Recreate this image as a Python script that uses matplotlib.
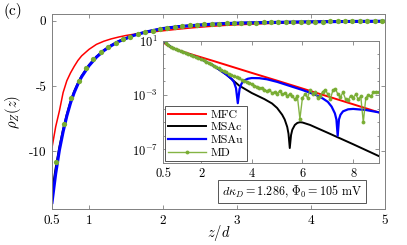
import matplotlib
matplotlib.use('Agg')
import matplotlib.pyplot as plt
import numpy as np

plt.rcParams['font.family'] = 'serif'
plt.rcParams['font.serif'] = ['cmr10', 'DejaVu Serif']
plt.rcParams['mathtext.fontset'] = 'cm'
plt.rcParams['axes.unicode_minus'] = False
plt.rcParams['axes.formatter.use_mathtext'] = True

# ---- main panel data: rho_Z(z) vs z/d ----
z_main = [0.5, 0.55, 0.6, 0.65, 0.7, 0.75, 0.8, 0.85, 0.9, 1.0, 1.1, 1.2,
          1.3, 1.4, 1.5, 1.6, 1.7, 1.8, 2.0, 2.2, 2.4, 2.6, 2.8, 3.0, 3.3,
          3.6, 4.0, 4.5, 5.0]
mfc_main = [-9.7, -8.1, -6.9, -5.5, -4.6, -4.0, -3.5, -3.05, -2.7, -2.2,
            -1.82, -1.58, -1.4, -1.26, -1.14, -1.05, -0.97, -0.9, -0.78,
            -0.66, -0.55, -0.46, -0.38, -0.32, -0.25, -0.19, -0.14, -0.09,
            -0.06]
msac_main = [-13.2, -11.3, -9.7, -8.35, -7.2, -6.22, -5.43, -4.8, -4.25,
             -3.41, -2.77, -2.28, -1.9, -1.59, -1.36, -1.13, -0.97, -0.83,
             -0.6, -0.46, -0.37, -0.29, -0.23, -0.19, -0.15, -0.12, -0.09,
             -0.06, -0.04]
msau_main = [-13.9, -11.7, -9.9, -8.5, -7.3, -6.3, -5.5, -4.85, -4.3, -3.45,
             -2.8, -2.3, -1.92, -1.6, -1.37, -1.14, -0.98, -0.84, -0.61,
             -0.47, -0.38, -0.3, -0.24, -0.2, -0.16, -0.13, -0.1, -0.07,
             -0.05]
z_md = [0.56, 0.66, 0.76, 0.86, 0.96, 1.06, 1.16, 1.26, 1.36, 1.46, 1.56,
        1.66, 1.76, 1.86, 1.96, 2.06, 2.16, 2.26, 2.36, 2.46, 2.56, 2.66,
        2.76, 2.86, 2.96, 3.06, 3.16, 3.26, 3.36, 3.46, 3.56, 3.66, 3.76,
        3.86, 3.96, 4.06, 4.16, 4.26, 4.36, 4.46, 4.56, 4.66, 4.76, 4.86,
        4.96]
md_main = [-10.8, -7.94, -5.95, -4.6, -3.6, -2.9, -2.4, -2.0, -1.68, -1.43,
           -1.22, -1.05, -0.91, -0.78, -0.66, -0.56, -0.48, -0.42, -0.37,
           -0.33, -0.29, -0.26, -0.23, -0.21, -0.19, -0.17, -0.16, -0.15,
           -0.14, -0.13, -0.12, -0.11, -0.1, -0.1, -0.09, -0.08, -0.08,
           -0.07, -0.07, -0.06, -0.06, -0.06, -0.05, -0.05, -0.05]

# ---- inset data: log10 of magnitude ----
z_mfc_in = [0.5, 0.6, 0.7, 0.8, 1.0, 1.2, 1.5, 2.0, 2.5, 3.0, 4.0, 5.0, 6.0,
            7.0, 8.0, 9.0]
mfc_in = [0.92, 0.75, 0.63, 0.54, 0.38, 0.24, 0.06, -0.22, -0.5, -0.79,
          -1.37, -1.94, -2.52, -3.1, -3.68, -4.27]
z_msac_in = [0.5, 0.6, 0.7, 0.8, 1.0, 1.2, 1.5, 2.0, 2.5, 3.0, 3.5, 4.0, 4.5,
             4.8, 5.0, 5.2, 5.3, 5.4, 5.45, 5.5, 5.55, 5.6, 5.7, 5.8, 5.9,
             6.0, 6.3, 6.6, 7.0, 7.5, 8.0, 8.5, 9.0]
msac_in = [1.05, 0.85, 0.68, 0.55, 0.36, 0.21, 0.01, -0.36, -0.85, -1.5,
           -2.3, -2.85, -3.3, -3.62, -3.95, -4.45, -4.8, -5.35, -5.85, -6.9,
           -5.95, -5.55, -5.2, -5.05, -5.0, -5.02, -5.2, -5.45, -5.78, -6.2,
           -6.62, -7.05, -7.48]
z_msau_in = [0.5, 0.6, 0.7, 0.8, 1.0, 1.2, 1.5, 2.0, 2.5, 3.0, 3.2, 3.3, 3.38,
             3.45, 3.52, 3.6, 3.7, 3.85, 4.0, 4.3, 4.6, 5.0, 5.5, 6.0, 6.5,
             6.8, 7.0, 7.15, 7.28, 7.34, 7.39, 7.44, 7.5, 7.6, 7.8, 8.0, 8.5,
             9.0]
msau_in = [1.05, 0.85, 0.68, 0.55, 0.36, 0.21, 0.01, -0.36, -0.85, -1.5,
           -1.8, -2.05, -2.5, -3.6, -2.55, -2.15, -1.93, -1.8, -1.75, -1.76,
           -1.84, -2.03, -2.33, -2.63, -2.97, -3.25, -3.5, -3.85, -4.35, -4.8,
           -6.0, -4.8, -4.45, -4.2, -4.05, -4.02, -4.1, -4.27]
z_md_in = [0.5, 0.6, 0.7, 0.8, 0.9, 1.0, 1.1, 1.2, 1.3, 1.4, 1.5, 1.6, 1.7,
           1.8, 1.9, 2.0, 2.1, 2.2, 2.3, 2.4, 2.5, 2.6, 2.7, 2.8, 2.9, 3.0,
           3.1, 3.2, 3.3, 3.4, 3.5, 3.6, 3.7, 3.8, 3.9, 4.0, 4.1, 4.2, 4.3,
           4.4, 4.5, 4.6, 4.7, 4.8, 4.9, 5.0, 5.1, 5.2, 5.3, 5.4, 5.5, 5.6,
           5.7, 5.8, 5.9, 6.0, 6.1, 6.2, 6.3, 6.4, 6.5, 6.6, 6.7, 6.8, 6.9,
           7.0, 7.1, 7.2, 7.3, 7.4, 7.5, 7.6, 7.7, 7.8, 7.9, 8.0, 8.1, 8.2,
           8.3, 8.4, 8.5, 8.6, 8.7, 8.8, 8.9, 9.0]
md_in = [1.07, 0.86, 0.69, 0.56, 0.46, 0.37, 0.29, 0.21, 0.14, 0.07, 0.0,
         -0.07, -0.14, -0.21, -0.28, -0.36, -0.45, -0.54, -0.63, -0.73, -0.83,
         -0.93, -1.03, -1.13, -1.23, -1.33, -1.43, -1.52, -1.61, -1.7, -1.78,
         -1.86, -1.94, -2.02, -2.1, -2.18, -2.3, -2.38, -2.5, -2.45, -2.6,
         -2.72, -2.62, -2.85, -2.78, -2.9, -2.7, -2.95, -2.85, -3.05, -2.95,
         -3.1, -3.3, -3.1, -4.75, -3.2, -2.95, -3.2, -2.65, -2.9, -2.8, -3.2,
         -3.05, -2.75, -2.6, -2.95, -3.3, -2.65, -2.55, -2.95, -3.15, -2.8,
         -3.3, -3.4, -3.05, -3.2, -2.95, -3.3, -3.1, -5.0, -3.2, -3.0, -3.1,
         -2.8, -2.75, -2.8]

red = '#ff0000'
black = '#000000'
blue = '#0000ff'
green = '#77ac30'
spine_gray = '#808080'

fig = plt.figure(figsize=(4.07, 2.45), dpi=100)
ax = fig.add_axes([0.1278, 0.1469, 0.8182, 0.7959])

ax.plot(z_main, mfc_main, color=red, lw=1.1)
ax.plot(z_main, msac_main, color=black, lw=1.6)
ax.plot(z_main, msau_main, color=blue, lw=2.2)
ax.plot(z_md, md_main, 'o', color=green, ms=3.8, mec='none')

ax.set_xlim(0.5, 5)
ax.set_ylim(-14.4, 0.5)
ax.set_xticks([0.5, 1, 2, 3, 4, 5])
ax.set_xticklabels(['0.5', '1', '2', '3', '4', '5'])
ax.set_yticks([-10, -5, 0])
ax.set_yticklabels(['-10', '-5', '0'])
ax.tick_params(direction='in', top=True, right=True, labelsize=9.5,
               length=3, width=0.6, color=spine_gray, pad=4)
for s in ax.spines.values():
    s.set_color(spine_gray)
    s.set_linewidth(0.7)
ax.set_xlabel(r'$z/d$', fontsize=10.5, labelpad=-2.5)
ax.set_ylabel(r'$\rho_Z(z)$', fontsize=10.5, labelpad=4)

ax.text(0.72, 0.09, r'$d\kappa_D = 1.286$, $\Phi_0 = 105$ mV',
        transform=ax.transAxes, fontsize=8.7, ha='center', va='center',
        bbox=dict(boxstyle='square,pad=0.3', fc='white', ec='#555555',
                  lw=0.7))

fig.text(0.008, 0.94, '(c)', fontsize=11)

# ---- inset ----
ins = fig.add_axes([0.4005, 0.3347, 0.5295, 0.4993])
ins.semilogy(z_mfc_in, 10.0 ** np.array(mfc_in), color=red, lw=1.4,
             label='MFC')
ins.semilogy(z_msac_in, 10.0 ** np.array(msac_in), color=black, lw=1.4,
             label='MSAc')
ins.semilogy(z_msau_in, 10.0 ** np.array(msau_in), color=blue, lw=1.6,
             label='MSAu')
ins.semilogy(z_md_in, 10.0 ** np.array(md_in), '-o', color=green, lw=1.0,
             ms=1.8, alpha=0.9, label='MD')
ins.set_xlim(0.5, 9)
ins.set_ylim(1e-8, 10)
ins.set_xticks([0.5, 2, 4, 6, 8])
ins.set_xticklabels(['0.5', '2', '4', '6', '8'])
ins.set_yticks([1e1, 1e-3, 1e-7])
ins.set_yticks([10.0 ** k for k in range(-8, 2)], minor=True)
ins.yaxis.set_minor_formatter(matplotlib.ticker.NullFormatter())
ins.tick_params(which='both', direction='in', top=True, right=True,
                labelsize=9, color=spine_gray, width=0.6)
ins.tick_params(which='major', length=3)
ins.tick_params(which='minor', length=1.5)
for s in ins.spines.values():
    s.set_color(spine_gray)
    s.set_linewidth(0.7)

leg = ins.legend(loc='lower left', fontsize=8.5, handlelength=3.2,
                 labelspacing=0.2, borderaxespad=0.15, borderpad=0.3,
                 handletextpad=0.4, fancybox=False, framealpha=1)
leg.get_frame().set_edgecolor('#555555')
leg.get_frame().set_linewidth(0.7)

fig.savefig('out.png', dpi=100)
